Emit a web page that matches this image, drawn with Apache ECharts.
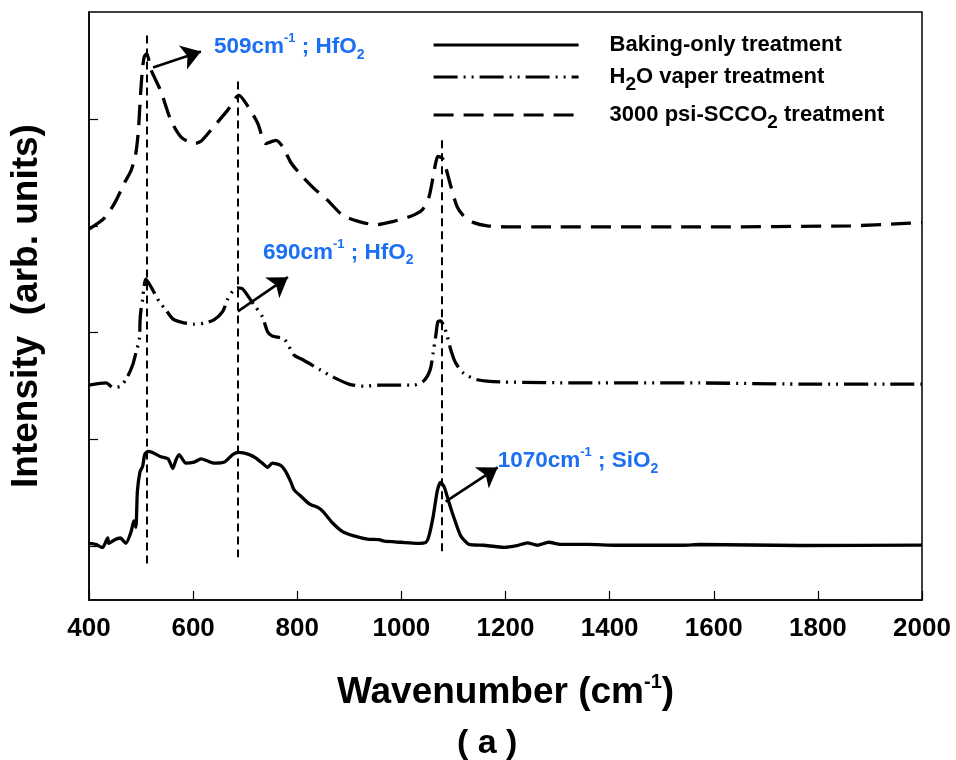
<!DOCTYPE html>
<html>
<head>
<meta charset="utf-8">
<script src="https://cdn.jsdelivr.net/npm/echarts@6/dist/echarts.min.js"></script>
<style>
html,body{margin:0;padding:0;background:#fff;}
#chart{width:956px;height:760px;}
</style>
</head>
<body>
<div id="chart"></div>
<script>
// ---- data ----
const xTicks = [400, 600, 800, 1000, 1200, 1400, 1600, 1800, 2000];
const yTickValues = [0, 1, 2, 3, 4];

const seriesNames = ['Baking-only treatment', 'H2O vaper treatment', '3000 psi-SCCO2 treatment'];

const bakingX = [400,413,426,436,438,448,460,471,481,486,490,493,498,503,507,513,522,538,552,561,567,573,586,602,615,628,640,660,676,688,708,720,733,743,752,768,778,788,794,807,823,842,851,868,887,909,935,957,967,999,1031,1047,1053,1061,1069,1075,1082,1091,1101,1114,1130,1158,1197,1222,1242,1261,1283,1306,1357,1414,1478,1542,1574,1766,2000];
const bakingY = [0.03,0.02,-0.01,0.08,0.03,0.06,0.08,0.03,0.14,0.24,0.18,0.52,0.70,0.75,0.86,0.89,0.88,0.84,0.82,0.73,0.81,0.86,0.78,0.79,0.82,0.80,0.78,0.79,0.86,0.88,0.86,0.83,0.78,0.74,0.78,0.76,0.70,0.60,0.53,0.47,0.40,0.36,0.32,0.22,0.14,0.10,0.07,0.065,0.05,0.04,0.03,0.04,0.10,0.28,0.52,0.60,0.56,0.42,0.27,0.10,0.02,0.012,-0.007,0.009,0.035,0.012,0.04,0.02,0.02,0.012,0.012,0.012,0.019,0.01,0.014];

const waterX = [400,433,446,461,474,484,490,497,498,500,503,505,509,519,535,548,561,577,602,621,640,657,666,676,685,695,717,733,743,752,775,794,810,845,871,899,928,960,992,1024,1043,1055,1061,1066,1070,1075,1082,1088,1095,1104,1120,1146,1190,1382,1574,1766,2000];
const waterY = [1.51,1.53,1.49,1.50,1.59,1.70,1.81,1.95,2.11,2.22,2.31,2.40,2.50,2.43,2.29,2.21,2.13,2.10,2.08,2.09,2.12,2.20,2.31,2.39,2.42,2.41,2.26,2.15,2.01,1.97,1.94,1.79,1.75,1.65,1.58,1.52,1.50,1.51,1.51,1.51,1.55,1.65,1.81,1.97,2.10,2.11,2.06,1.97,1.84,1.72,1.62,1.56,1.54,1.53,1.53,1.52,1.52];

const scco2X = [400,429,449,468,481,490,495,498,502,506,511,519,538,557,577,602,615,640,666,688,705,724,740,759,772,788,810,832,858,887,919,951,983,1018,1040,1053,1061,1066,1070,1079,1085,1095,1107,1120,1139,1165,1203,1254,1574,1862,1958,2000];
const scco2Y = [2.97,3.07,3.21,3.40,3.52,3.68,3.90,4.15,4.43,4.58,4.61,4.46,4.26,3.99,3.83,3.77,3.79,3.93,4.08,4.22,4.12,3.96,3.77,3.80,3.74,3.59,3.46,3.35,3.24,3.10,3.04,3.01,3.04,3.09,3.15,3.27,3.46,3.59,3.65,3.63,3.55,3.37,3.18,3.09,3.03,3.00,2.99,2.99,2.99,3.00,3.02,3.03];

// peak reference lines
const refX = [511, 686, 1077];
const refTop = [4.78, 4.35, 3.80];
const refBottom = [-0.19, -0.10, -0.08];

// annotation arrows
const arrowFromX = [523, 686, 1085];
const arrowFromY = [4.48, 2.20, 0.42];
const arrowToX = [615, 782, 1185];
const arrowToY = [4.63, 2.52, 0.74];

// annotation labels
const labelX = [640, 734, 1185];
const labelY = [4.67, 2.75, 0.80];
const labelWave = ['509', '690', '1070'];
const labelCompound = ['HfO', 'HfO', 'SiO'];

// ---- build ----
const zip = (xs, ys) => xs.map((x, i) => [x, ys[i]]);
const FONT = '"Liberation Sans", Arial, sans-serif';
const BLUE = '#1a6ff2';

const chart = echarts.init(document.getElementById('chart'), null, {renderer: 'canvas'});

const legendRich = {
  n: {fontFamily: FONT, fontWeight: 'bold', fontSize: 22, color: '#000', lineHeight: 34},
  s: {fontFamily: FONT, fontWeight: 'bold', fontSize: 19, color: '#000', lineHeight: 20, verticalAlign: 'bottom'}
};

const labelRich = {
  n: {fontFamily: FONT, fontWeight: 'bold', fontSize: 22.5, color: BLUE, lineHeight: 30},
  sup: {fontFamily: FONT, fontWeight: 'bold', fontSize: 13, color: BLUE, lineHeight: 16, verticalAlign: 'top'},
  sub: {fontFamily: FONT, fontWeight: 'bold', fontSize: 14, color: BLUE, lineHeight: 16, verticalAlign: 'bottom'}
};

const option = {
  backgroundColor: '#fff',
  animation: false,
  title: {
    text: '( a )',
    left: 452,
    top: 722,
    textStyle: {fontFamily: FONT, fontWeight: 'bold', fontSize: 34, color: '#000'}
  },
  grid: {left: 88, right: 34, top: 12, bottom: 160, show: true, borderColor: '#000', borderWidth: 1.5, backgroundColor: 'transparent'},
  legend: {
    data: seriesNames,
    orient: 'vertical',
    left: 427,
    top: 29,
    itemWidth: 145,
    itemHeight: 14,
    itemGap: 10,
    itemStyle: {opacity: 0, color: 'transparent', borderWidth: 0},
    lineStyle: {width: 3.2, color: '#000'},
    textStyle: {fontFamily: FONT, fontWeight: 'bold', fontSize: 22, color: '#000', padding: [0, 0, 0, 26], rich: legendRich},
    formatter: function (name) {
      if (name === seriesNames[1]) return '{n|H}{s|2}{n|O vaper treatment}';
      if (name === seriesNames[2]) return '{n|3000 psi-SCCO}{s|2}{n| treatment}';
      return '{n|' + name + '}';
    }
  },
  xAxis: {
    type: 'value',
    min: 400, max: 2000, interval: 200,
    name: 'Wavenumber (cm{sup|-1})',
    nameLocation: 'middle',
    nameGap: 72,
    nameTextStyle: {
      fontFamily: FONT, fontWeight: 'bold', fontSize: 37, color: '#000', lineHeight: 42,
      rich: {sup: {fontFamily: FONT, fontWeight: 'bold', fontSize: 20, color: '#000', lineHeight: 20, verticalAlign: 'top'}}
    },
    axisLine: {onZero: false, lineStyle: {color: '#000', width: 1.5}},
    axisTick: {inside: true, length: 9, lineStyle: {color: '#000', width: 1.2}},
    axisLabel: {
      fontFamily: FONT, fontWeight: 'bold', fontSize: 26, color: '#000', margin: 16,
      customValues: xTicks,
      formatter: function (v) { return String(v); }
    },
    splitLine: {show: false}
  },
  yAxis: {
    type: 'value',
    min: -0.5, max: 5,
    name: 'Intensity  (arb. units)',
    nameLocation: 'middle',
    nameGap: 44,
    nameTextStyle: {fontFamily: FONT, fontWeight: 'bold', fontSize: 37, color: '#000'},
    axisLine: {onZero: false, lineStyle: {color: '#000', width: 1.5}},
    axisTick: {inside: true, length: 9, customValues: yTickValues, lineStyle: {color: '#000', width: 1.2}},
    axisLabel: {show: false},
    splitLine: {show: false}
  },
  series: [
    {
      name: seriesNames[0], type: 'line', data: zip(bakingX, bakingY),
      symbol: 'none', smooth: 0.2,
      lineStyle: {color: '#000', width: 3.3, type: 'solid'},
      itemStyle: {color: '#000'}, z: 3
    },
    {
      name: seriesNames[1], type: 'line', data: zip(waterX, waterY),
      symbol: 'none', smooth: 0.25,
      lineStyle: {color: '#000', width: 3.3, type: [24, 6, 2, 6, 2, 6]},
      itemStyle: {color: '#000'}, z: 3
    },
    {
      name: seriesNames[2], type: 'line', data: zip(scco2X, scco2Y),
      symbol: 'none', smooth: 0.25,
      lineStyle: {color: '#000', width: 3.3, type: [20, 10]},
      itemStyle: {color: '#000'}, z: 3
    },
    {
      name: 'refs', type: 'lines', coordinateSystem: 'cartesian2d',
      data: refX.map((x, i) => ({coords: [[x, refTop[i]], [x, refBottom[i]]]})),
      symbol: 'none',
      lineStyle: {color: '#000', width: 2, type: [8, 5], opacity: 1},
      z: 2
    },
    {
      name: 'arrows', type: 'lines', coordinateSystem: 'cartesian2d',
      data: arrowFromX.map((x, i) => ({coords: [[x, arrowFromY[i]], [arrowToX[i], arrowToY[i]]]})),
      symbol: ['none', 'arrow'], symbolSize: 19,
      lineStyle: {color: '#000', width: 2.6, type: 'solid', opacity: 1},
      z: 4
    },
    {
      name: 'labels', type: 'scatter',
      data: labelX.map((x, i) => ({value: [x, labelY[i]], wave: labelWave[i], comp: labelCompound[i]})),
      symbolSize: 0,
      itemStyle: {opacity: 1, color: BLUE},
      label: {
        show: true, position: 'right', distance: 0, opacity: 1,
        formatter: function (p) {
          return '{n|' + p.data.wave + 'cm}{sup|-1}{n| ; ' + p.data.comp + '}{sub|2}';
        },
        rich: labelRich
      },
      z: 5
    }
  ]
};
chart.setOption(option);
</script>
</body>
</html>
